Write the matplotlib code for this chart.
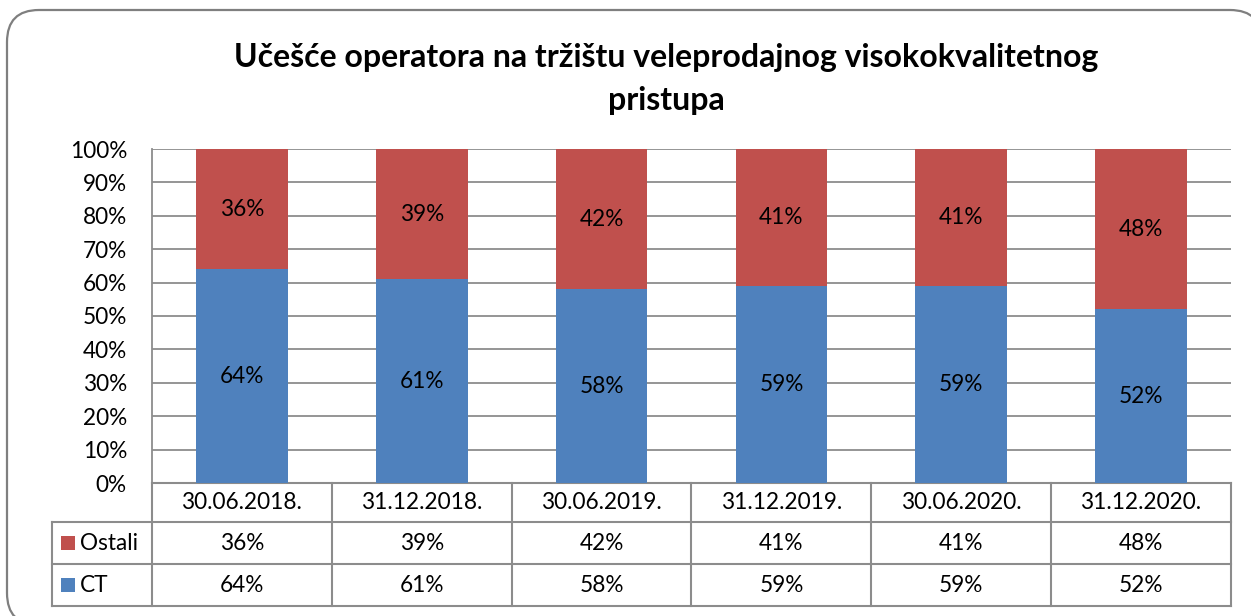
import matplotlib
import numpy as np

matplotlib.use("Agg")
import matplotlib.pyplot as plt
from matplotlib.patches import FancyBboxPatch, Rectangle

categories = ["30.06.2018.", "31.12.2018.", "30.06.2019.", "31.12.2019.", "30.06.2020.", "31.12.2020."]
ct = [64, 61, 58, 59, 59, 52]
ostali = [36, 39, 42, 41, 41, 48]
series_names = ["Ostali", "CT"]
title = "Učešće operatora na tržištu veleprodajnog visokokvalitetnog\npristupa"

RED = "#C0504D"
BLUE = "#4F81BD"
GRID = "#8C8C8C"
FONT = "Lato"
FS = 16.3

W, H = 1251, 616
fig = plt.figure(figsize=(W / 100, H / 100), dpi=100)
plt.rcParams["font.family"] = [FONT, "DejaVu Sans"]

# rounded outer frame (in inches, runs past the right and bottom edges)
frame = FancyBboxPatch((7 / 100, -9 / 100), (1262 - 7) / 100, (606 + 9) / 100,
                       boxstyle="round,pad=0,rounding_size=0.32",
                       transform=fig.dpi_scale_trans, fc="white", ec="#7F7F7F", lw=1.6,
                       zorder=-5)
fig.patches.append(frame)

left, right, top, bottom = 152, 1231, 149, 483
ax = fig.add_axes([left / W, 1 - bottom / H, (right - left) / W, (bottom - top) / H])
ax.set_facecolor("none")

x = np.arange(len(categories))
ax.bar(x, ct, width=0.51, color=BLUE, zorder=3)
ax.bar(x, ostali, bottom=ct, width=0.51, color=RED, zorder=3)

for i in range(len(categories)):
    ax.text(x[i], ct[i] / 2, f"{ct[i]}%", ha="center", va="center", fontsize=FS, zorder=4)
    ax.text(x[i], ct[i] + ostali[i] / 2, f"{ostali[i]}%", ha="center", va="center",
            fontsize=FS, zorder=4)

ax.set_xlim(-0.5, len(categories) - 0.5)
ax.set_ylim(0, 100)
ax.set_yticks(np.arange(0, 101, 10))
ax.set_yticklabels([f"{v}%" for v in range(0, 101, 10)], fontsize=FS)
ax.tick_params(axis="y", length=0, pad=18)
ax.set_xticks([])
ax.grid(axis="y", color=GRID, lw=1.3, zorder=0)
for s in ["top", "right", "bottom"]:
    ax.spines[s].set_visible(False)
ax.spines["left"].set_color(GRID)
ax.spines["left"].set_linewidth(1.3)

# data table below the plot
tr = ax.get_xaxis_transform()
ph = bottom - top
cw = (right - left) / len(categories)
r1 = -(522 - bottom) / ph
r2 = -(564 - bottom) / ph
r3 = -(606 - bottom) / ph
xl = -0.5 - (left - 52) / cw
xr = len(categories) - 0.5
lk = dict(color=GRID, lw=1.5, transform=tr, clip_on=False)
ax.plot([-0.5, xr], [0, 0], **lk)
ax.plot([xl, xr], [r1, r1], **lk)
ax.plot([xl, xr], [r2, r2], **lk)
ax.plot([xl, xr], [r3, r3], **lk)
ax.plot([xl, xl], [r1, r3], **lk)
for b in np.arange(-0.5, len(categories), 1.0):
    ax.plot([b, b], [0, r3], **lk)

for i, c in enumerate(categories):
    ax.text(x[i], r1 / 2, c, ha="center", va="center", fontsize=FS, transform=tr)
    ax.text(x[i], (r1 + r2) / 2, f"{ostali[i]}%", ha="center", va="center", fontsize=FS, transform=tr)
    ax.text(x[i], (r2 + r3) / 2, f"{ct[i]}%", ha="center", va="center", fontsize=FS, transform=tr)

# legend keys inside the table's first column
for name, color, (ya, yb) in zip(series_names, [RED, BLUE], [(r1, r2), (r2, r3)]):
    ym = (ya + yb) / 2
    ky = bottom - ym * ph
    fig.patches.append(Rectangle((61 / W, 1 - (ky + 7) / H), 14 / W, 14 / H,
                                 transform=fig.transFigure, fc=color, ec="none"))
    ax.text(-0.5 - (left - 80) / cw, ym, name, ha="left", va="center", fontsize=FS, transform=tr)

fig.text(666 / W, 1 - 79 / H, title, ha="center", va="center", fontsize=23,
         fontweight="bold", linespacing=1.6)

fig.savefig("out.png", dpi=100)
